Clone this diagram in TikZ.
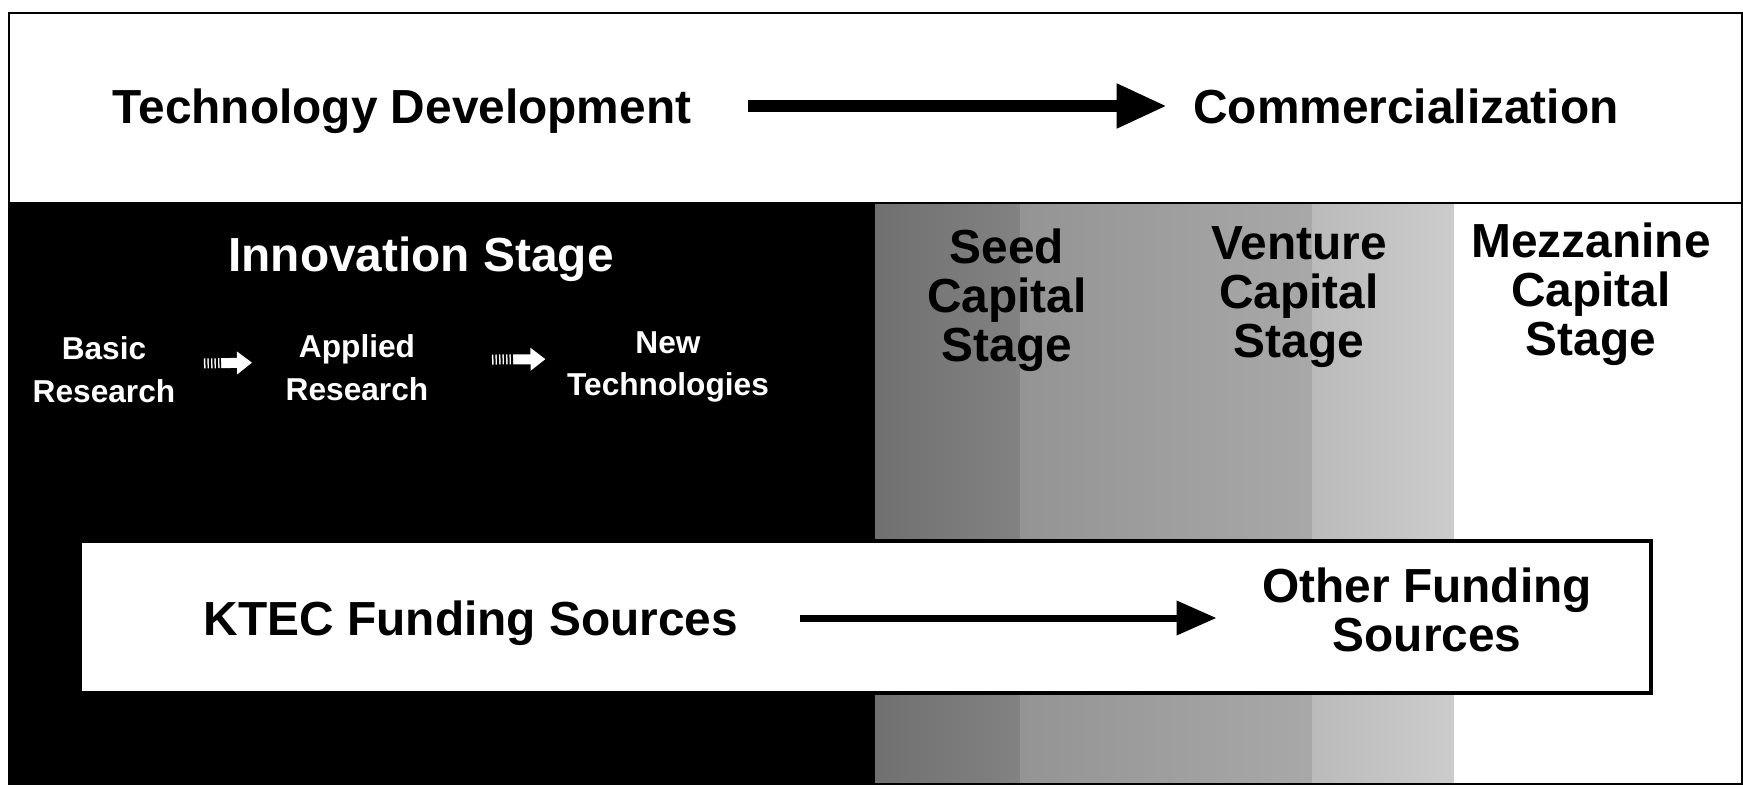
\documentclass[tikz,border=0pt]{standalone}
\usepackage{fontspec}
\setmainfont{Liberation Sans}
\usetikzlibrary{arrows.meta, positioning}

\begin{document}
\begin{tikzpicture}[x=0.01cm, y=-0.01cm,
    big/.style={font=\fontsize{13.6}{13.9}\selectfont\bfseries, inner sep=0pt},
    small/.style={font=\fontsize{9}{12.2}\selectfont\bfseries, text=white, align=center, inner sep=0pt},
    longarrow/.style={-{Triangle[length=0.5cm, width=0.42cm]}, line width=0.11cm},
    fundarrow/.style={-{Triangle[length=0.4cm, width=0.33cm]}, line width=0.07cm},
    steparrow/.style={white, -{Triangle[length=0.15cm, width=0.22cm]}, line width=0.1cm}]
    \useasboundingbox (0,0) rectangle (1743,788);

    % stage backgrounds
    \fill[black] (9,203) rectangle (875,784);
    \shade[left color=black!56, right color=black!49] (875,203) rectangle (1020,784);
    \shade[left color=black!42, right color=black!34] (1020,203) rectangle (1312,784);
    \shade[left color=black!27, right color=black!20] (1312,203) rectangle (1454,784);
    \draw[line width=0.8pt] (9,13) rectangle (1742,784);
    \draw[line width=0.8pt] (9,203) -- (1742,203);

    % top row
    \node[big] (techdev) at (402,111) {Technology Development};
    \node[big] (comm) at (1406,106) {Commercialization};
    \draw[longarrow, shorten <=0.56cm, shorten >=0.26cm] (techdev.east |- comm) -- (comm);

    % innovation stage
    \node[big, text=white] (innov) at (421,259) {Innovation Stage};
    \node[small] (basic) at (104,370) {Basic\\Research};
    \node[small] (applied) at (357,368) {Applied\\Research};
    \node[small] (newtech) at (668,367) {New\\Technologies};
    \draw[steparrow, shorten <=0.28cm, shorten >=0.33cm,
        postaction={draw, -, black, line width=0.12cm, shorten >=0.64cm,
            dash pattern=on 0.02cm off 0.015cm, dash phase=0.02cm}]
        ([yshift=0.06cm]basic.east) -- ([yshift=0.06cm]applied.west);
    \draw[steparrow, shorten <=0.63cm, shorten >=0.21cm,
        postaction={draw, -, black, line width=0.12cm, shorten >=0.52cm,
            dash pattern=on 0.02cm off 0.015cm, dash phase=0.02cm}]
        ([yshift=0.08cm]applied.east) -- ([yshift=0.08cm]newtech.west);

    % capital stages
    \node[big, align=center] (seed) at (1007,300) {Seed\\Capital\\Stage};
    \node[big, align=center] (venture) at (1299,297) {Venture\\Capital\\Stage};
    \node[big, align=center] (mezz) at (1591,294) {Mezzanine\\Capital\\Stage};

    % funding sources
    \draw[fill=white, line width=1pt] (80,541) rectangle (1651,693);
    \node[big] (ktec) at (471,623) {KTEC Funding Sources};
    \node[big, align=center] (other) at (1427,610) {Other Funding\\Sources};
    \draw[fundarrow, shorten <=0.61cm, shorten >=0.45cm] (ktec.east |- 0,618) -- (other.west |- 0,618);
\end{tikzpicture}
\end{document}
